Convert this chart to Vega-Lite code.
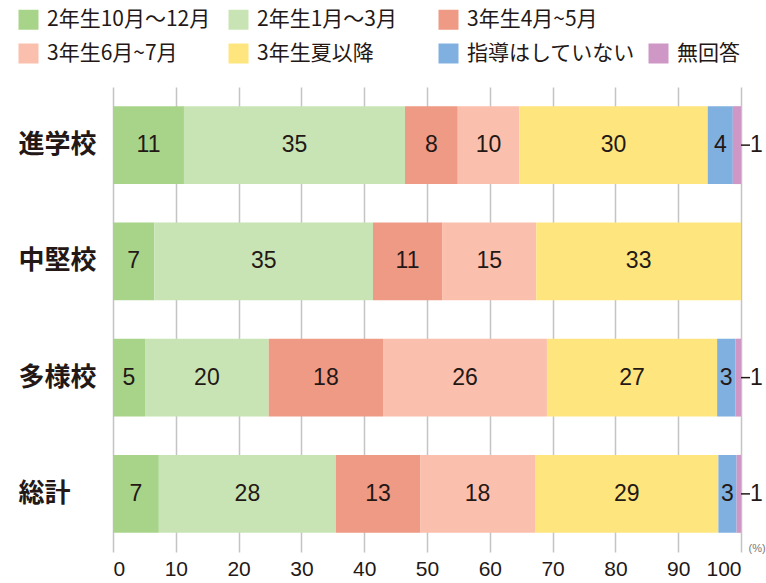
{
  "$schema": "https://vega.github.io/schema/vega-lite/v6.json",
  "width": 628,
  "height": 465,
  "autosize": {"type": "none"},
  "padding": {"left": 113, "top": 87, "right": 25, "bottom": 31},
  "background": "white",
  "config": {
    "view": {"stroke": null},
    "font": "Noto Sans CJK JP"
  },
  "data": {
    "values": [
      {"school": "進学校", "series": "2年生10月～12月", "value": 11.3},
      {"school": "進学校", "series": "2年生1月～3月", "value": 35.2},
      {"school": "進学校", "series": "3年生4月~5月", "value": 8.4},
      {"school": "進学校", "series": "3年生6月~7月", "value": 9.8},
      {"school": "進学校", "series": "3年生夏以降", "value": 30.0},
      {"school": "進学校", "series": "指導はしていない", "value": 4.0},
      {"school": "進学校", "series": "無回答", "value": 1.3},
      {"school": "中堅校", "series": "2年生10月～12月", "value": 6.6},
      {"school": "中堅校", "series": "2年生1月～3月", "value": 34.8},
      {"school": "中堅校", "series": "3年生4月~5月", "value": 11.0},
      {"school": "中堅校", "series": "3年生6月~7月", "value": 15.0},
      {"school": "中堅校", "series": "3年生夏以降", "value": 32.6},
      {"school": "多様校", "series": "2年生10月～12月", "value": 5.1},
      {"school": "多様校", "series": "2年生1月～3月", "value": 19.7},
      {"school": "多様校", "series": "3年生4月~5月", "value": 18.2},
      {"school": "多様校", "series": "3年生6月~7月", "value": 26.1},
      {"school": "多様校", "series": "3年生夏以降", "value": 27.1},
      {"school": "多様校", "series": "指導はしていない", "value": 2.9},
      {"school": "多様校", "series": "無回答", "value": 0.9},
      {"school": "総計", "series": "2年生10月～12月", "value": 7.3},
      {"school": "総計", "series": "2年生1月～3月", "value": 28.2},
      {"school": "総計", "series": "3年生4月~5月", "value": 13.4},
      {"school": "総計", "series": "3年生6月~7月", "value": 18.3},
      {"school": "総計", "series": "3年生夏以降", "value": 29.2},
      {"school": "総計", "series": "指導はしていない", "value": 2.9},
      {"school": "総計", "series": "無回答", "value": 0.7}
    ]
  },
  "transform": [
    {"calculate": "indexof(['2年生10月～12月','2年生1月～3月','3年生4月~5月','3年生6月~7月','3年生夏以降','指導はしていない','無回答'], datum.series)", "as": "ord"},
    {"stack": "value", "groupby": ["school"], "sort": [{"field": "ord", "order": "ascending"}], "as": ["x0", "x1"]},
    {"calculate": "(datum.x0 + datum.x1) / 2", "as": "mid"}
  ],
  "encoding": {
    "y": {
      "field": "school",
      "type": "nominal",
      "sort": ["進学校", "中堅校", "多様校", "総計"],
      "scale": {"paddingInner": 0.33, "paddingOuter": 0.165},
      "axis": {
        "title": null,
        "ticks": false,
        "domain": false,
        "labelAlign": "left",
        "labelPadding": 95,
        "labelFontSize": 26,
        "labelFontWeight": "bold",
        "labelColor": "#231815",
        "labelFont": "Noto Sans CJK JP"
      }
    }
  },
  "layer": [
    {
      "mark": {"type": "bar"},
      "encoding": {
        "x": {
          "field": "x0",
          "type": "quantitative",
          "scale": {"domain": [0, 100], "nice": false},
          "axis": {
            "values": [0, 10, 20, 30, 40, 50, 60, 70, 80, 90, 100],
            "grid": true,
            "gridColor": "#c4c4c4",
            "gridWidth": 1.5,
            "domain": false,
            "ticks": false,
            "labelFontSize": 21,
            "labelColor": "#231815",
            "labelPadding": 6,
            "labelFont": "Liberation Sans",
            "title": "(%)",
            "titleX": 635,
            "titleY": -4,
            "titleAlign": "left",
            "titleBaseline": "middle",
            "titleFontSize": 11,
            "titleFontWeight": "normal",
            "titleFont": "Liberation Sans",
            "titleColor": "#777777"
          }
        },
        "x2": {"field": "x1"},
        "color": {
          "field": "series",
          "type": "nominal",
          "scale": {
            "domain": ["2年生10月～12月", "2年生1月～3月", "3年生4月~5月", " ", "3年生6月~7月", "3年生夏以降", "指導はしていない", "無回答"],
            "range": ["#a8d48a", "#c8e4b4", "#ef9a85", "rgba(0,0,0,0)", "#fbbfad", "#fee57e", "#80b0e0", "#cf97c5"]
          },
          "legend": {
            "title": null,
            "orient": "none",
            "legendX": -95,
            "legendY": -78,
            "direction": "horizontal",
            "columns": 4,
            "gridAlign": "all",
            "padding": 0,
            "symbolType": "square",
            "symbolSize": 400,
            "symbolStrokeWidth": 0,
            "symbolOpacity": 1,
            "labelFontSize": 21,
            "labelColor": "#231815",
            "labelFont": "Noto Sans CJK JP",
            "labelOffset": 8,
            "labelLimit": 300,
            "columnPadding": 13,
            "rowPadding": 12
          }
        }
      }
    },
    {
      "transform": [{"filter": "datum.series !== '無回答'"}],
      "mark": {"type": "text", "fontSize": 23, "color": "#231815", "font": "Liberation Sans", "baseline": "middle"},
      "encoding": {
        "x": {"field": "mid", "type": "quantitative"},
        "text": {"field": "value", "type": "quantitative", "format": ".0f"}
      }
    },
    {
      "transform": [{"filter": "datum.series === '無回答'"}],
      "mark": {"type": "rule", "color": "#231815", "strokeWidth": 1.5, "x2Offset": 9},
      "encoding": {
        "x": {"field": "x1", "type": "quantitative"},
        "x2": {"field": "x1"}
      }
    },
    {
      "transform": [{"filter": "datum.series === '無回答'"}],
      "mark": {"type": "text", "fontSize": 23, "color": "#231815", "font": "Liberation Sans", "baseline": "middle", "align": "left", "dx": 9},
      "encoding": {
        "x": {"field": "x1", "type": "quantitative"},
        "text": {"field": "value", "type": "quantitative", "format": ".0f"}
      }
    }
  ]
}
